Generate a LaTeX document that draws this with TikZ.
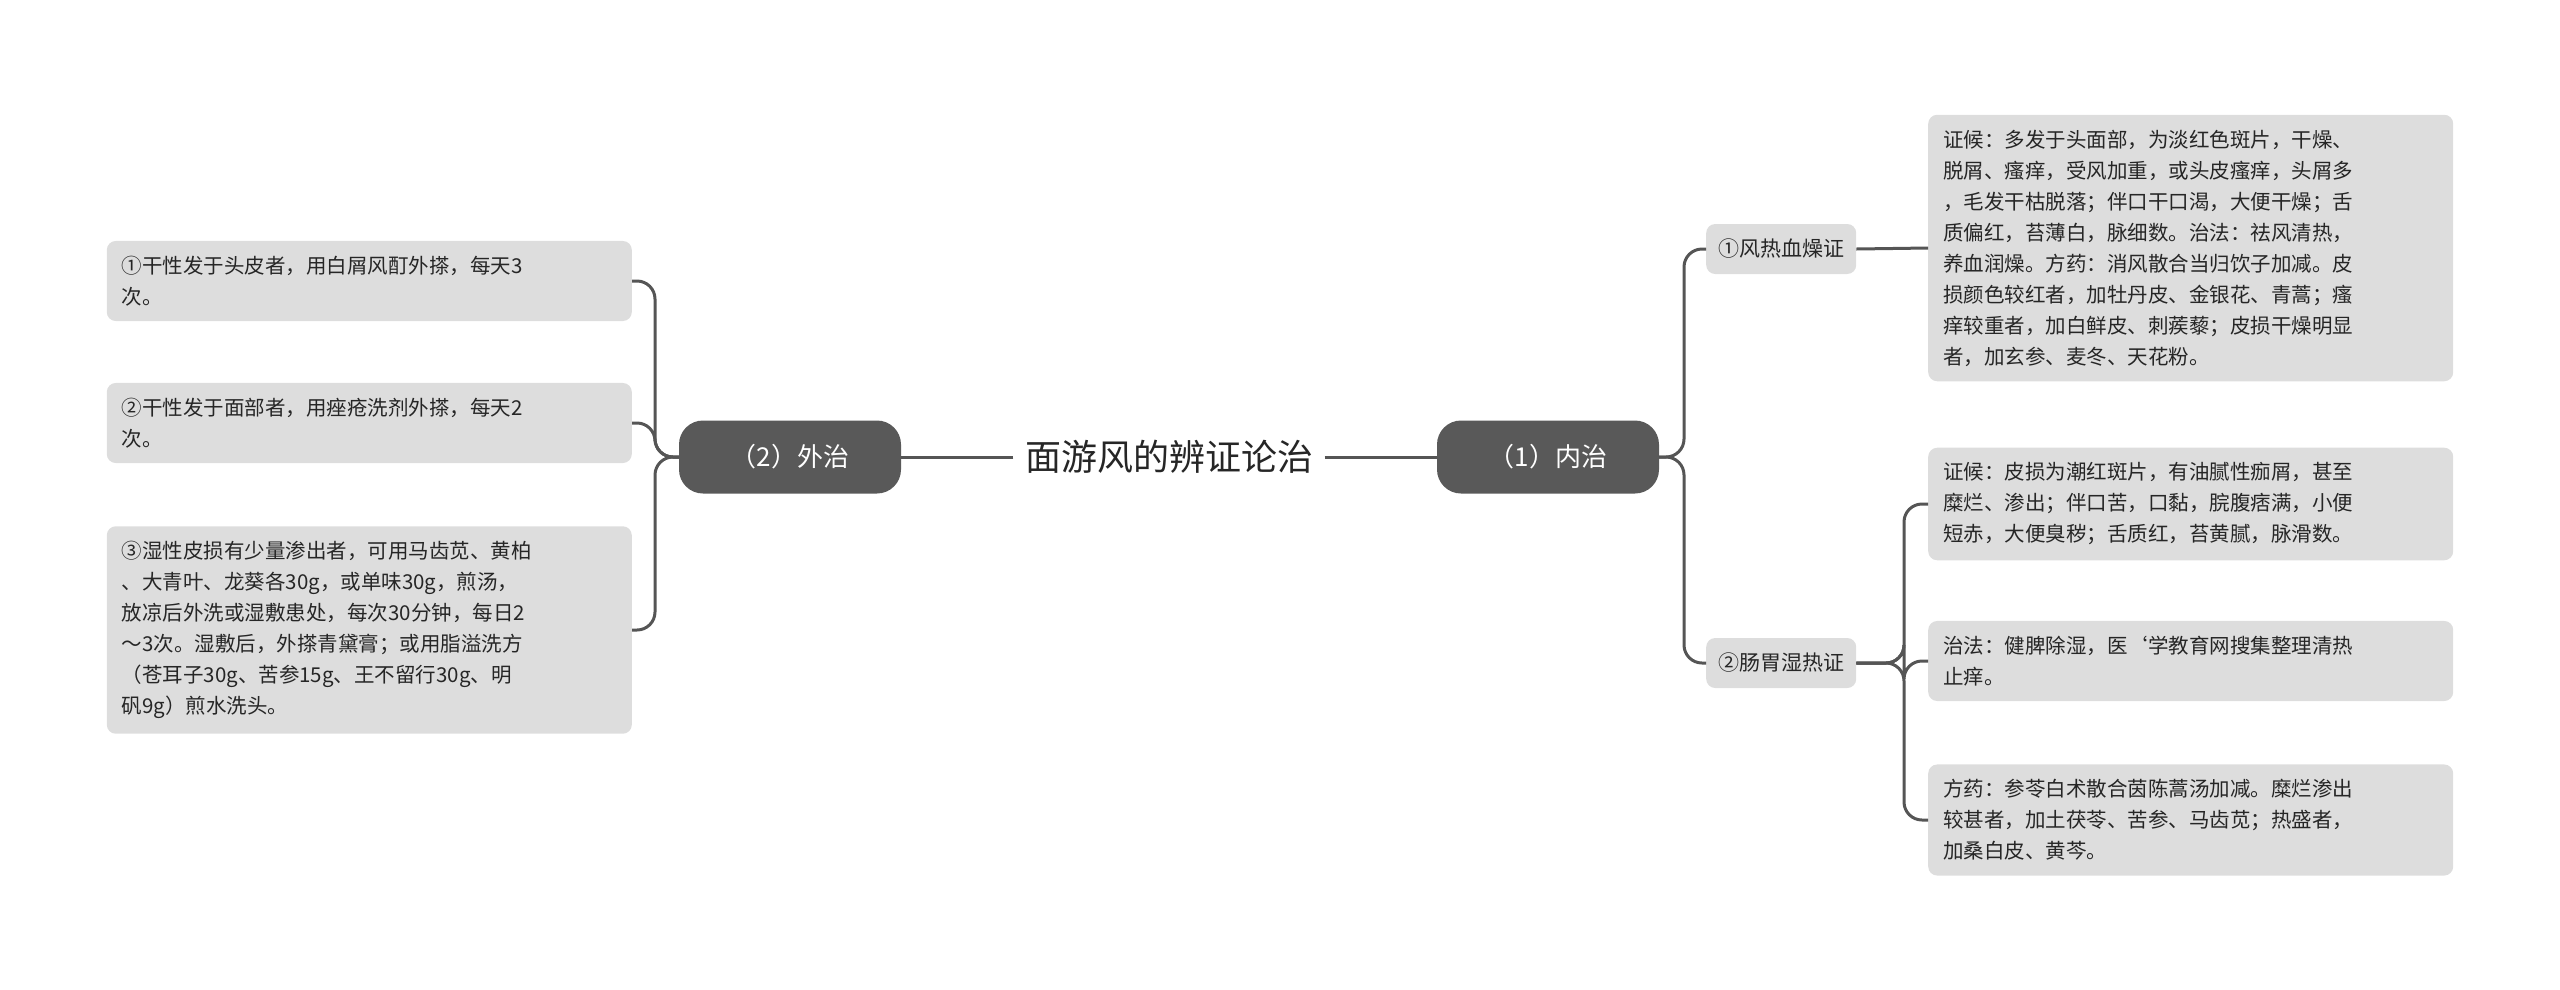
\documentclass[tikz,border=0pt]{standalone}
\usepackage{fontspec}
\setmainfont{Noto Sans CJK SC}
\begin{document}
\begin{tikzpicture}[x=1pt,y=-1pt,
  leaf/.style={fill=leafgray,rounded corners=9pt,text=black!85,align=left,anchor=west,
    text width=495pt,inner xsep=15pt,inner ysep=15pt,font=\fontsize{20.5pt}{31pt}\selectfont},
  mid/.style={fill=leafgray,rounded corners=9pt,text=black!85,inner xsep=12pt,inner ysep=10pt,
    font=\fontsize{21pt}{26pt}\selectfont,minimum height=50pt},
  pill/.style={fill=pillgray,text=white,rounded corners=24pt,minimum width=222pt,minimum height=73pt,
    font=\fontsize{26pt}{30pt}\selectfont},
  conn/.style={draw=linegray,line width=3pt,rounded corners=18pt}]
\definecolor{leafgray}{HTML}{DDDDDD}
\definecolor{pillgray}{HTML}{595959}
\definecolor{linegray}{HTML}{555555}
\useasboundingbox (0,0) rectangle (2560,989);
\node[font=\fontsize{36pt}{40pt}\selectfont,text=black!85] (root) at (1169,457) {面游风的辨证论治};
\node[pill] (r1) at (1548,457) {（1）内治};
\node[pill] (l1) at (790,457) {（2）外治};
\draw[conn] (root.east)+(8,0) coordinate (rs) -- (r1.west);
\draw[conn] (root.west)+(-8,0) coordinate (ls) -- (l1.east);
\node[mid,anchor=west] (a) at (1706,249) {①风热血燥证};
\node[mid,anchor=west] (b) at (1706,663) {②肠胃湿热证};
\node[leaf] (a1) at (1928,248) {证候：多发于头面部，为淡红色斑片，干燥、\\脱屑、瘙痒，受风加重，或头皮瘙痒，头屑多\\，毛发干枯脱落；伴口干口渴，大便干燥；舌\\质偏红，苔薄白，脉细数。治法：祛风清热，\\养血润燥。方药：消风散合当归饮子加减。皮\\损颜色较红者，加牡丹皮、金银花、青蒿；瘙\\痒较重者，加白鲜皮、刺蒺藜；皮损干燥明显\\者，加玄参、麦冬、天花粉。};
\node[leaf] (b1) at (1928,504) {证候：皮损为潮红斑片，有油腻性痂屑，甚至\\糜烂、渗出；伴口苦，口黏，脘腹痞满，小便\\短赤，大便臭秽；舌质红，苔黄腻，脉滑数。};
\node[leaf] (b2) at (1928,661) {治法：健脾除湿，医`学教育网搜集整理清热\\止痒。};
\node[leaf] (b3) at (1928,820) {方药：参苓白术散合茵陈蒿汤加减。糜烂渗出\\较甚者，加土茯苓、苦参、马齿苋；热盛者，\\加桑白皮、黄芩。};
\node[leaf,anchor=east] (c1) at (632,281) {①干性发于头皮者，用白屑风酊外搽，每天3\\次。};
\node[leaf,anchor=east] (c2) at (632,423) {②干性发于面部者，用痤疮洗剂外搽，每天2\\次。};
\node[leaf,anchor=east] (c3) at (632,630) {③湿性皮损有少量渗出者，可用马齿苋、黄柏\\、大青叶、龙葵各30g，或单味30g，煎汤，\\放凉后外洗或湿敷患处，每次30分钟，每日2\\～3次。湿敷后，外搽青黛膏；或用脂溢洗方\\（苍耳子30g、苦参15g、王不留行30g、明\\矾9g）煎水洗头。};
\foreach \t in {a,b} \draw[conn] (r1.east) -- (1684,457) |- (\t.west);
\foreach \t in {a1} \draw[conn] (a.east) -- (\t.west);
\foreach \t in {b1,b2,b3} \draw[conn] (b.east) -- (1904,663) |- (\t.west);
\foreach \t in {c1,c2,c3} \draw[conn] (l1.west) -- (655,457) |- (\t.east);
\end{tikzpicture}
\end{document}
